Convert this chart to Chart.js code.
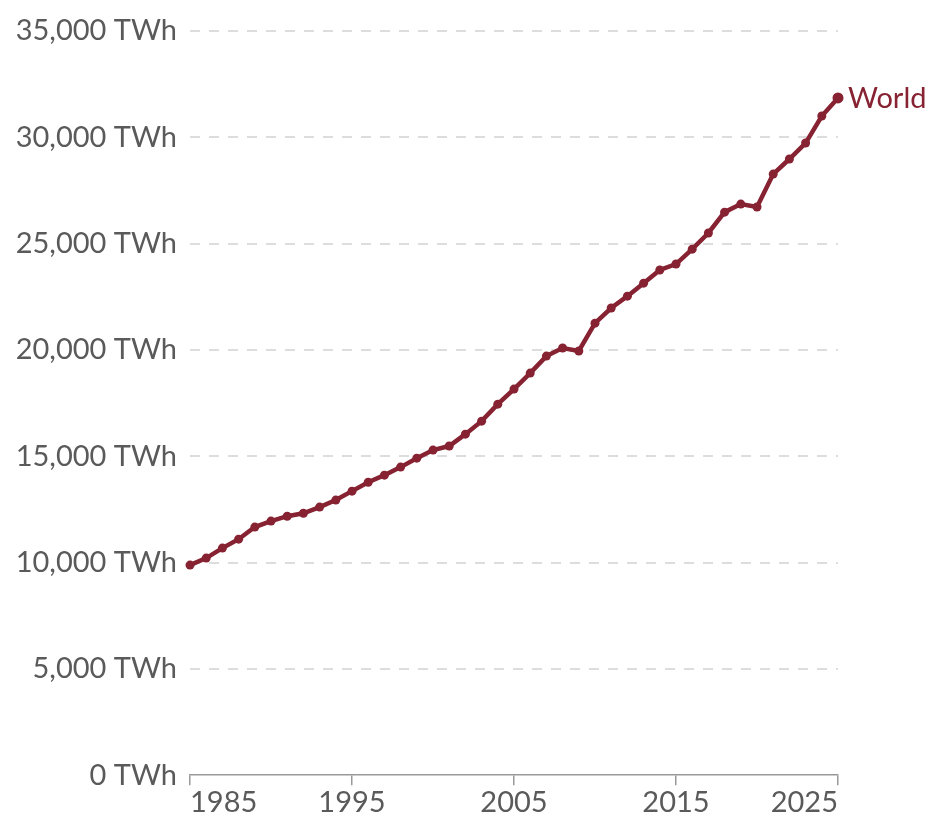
<!DOCTYPE html>
<html>
<head>
<meta charset="utf-8">
<script src="https://cdn.jsdelivr.net/npm/chart.js@4/dist/chart.umd.min.js"></script>
<style>
  html, body { margin: 0; padding: 0; background: #fff; }
  #wrap { position: relative; width: 931px; height: 820px; }
</style>
</head>
<body>
<div id="wrap"><canvas id="genChart"></canvas></div>
<script>
// World electricity generation, TWh
const years = [
  1985, 1986, 1987, 1988, 1989, 1990, 1991, 1992, 1993, 1994,
  1995, 1996, 1997, 1998, 1999, 2000, 2001, 2002, 2003, 2004,
  2005, 2006, 2007, 2008, 2009, 2010, 2011, 2012, 2013, 2014,
  2015, 2016, 2017, 2018, 2019, 2020, 2021, 2022, 2023, 2024, 2025
];
const world = [
  9880, 10210, 10680, 11100, 11670, 11950, 12180, 12320, 12610, 12940,
  13360, 13780, 14110, 14490, 14910, 15290, 15480, 16040, 16650, 17450,
  18160, 18910, 19710, 20090, 19950, 21260, 21970, 22530, 23140, 23760,
  24040, 24740, 25500, 26480, 26860, 26720, 28270, 28980, 29730, 31000, 31850
];
const seriesName = 'World';
const yTicks = [0, 5000, 10000, 15000, 20000, 25000, 30000, 35000];
const xTicks = [1985, 1995, 2005, 2015, 2025];

const lineColor = '#862231';
const textColor = '#5a5a5a';
const font = 'Lato, "Noto Sans", sans-serif';

// draws the series name next to its last point
const endLabel = {
  id: 'endLabel',
  afterDatasetsDraw(chart) {
    const meta = chart.getDatasetMeta(0);
    const pt = meta.data[meta.data.length - 1];
    const ctx = chart.ctx;
    ctx.save();
    ctx.fillStyle = lineColor;
    ctx.font = '29px ' + font;
    ctx.textAlign = 'left';
    ctx.textBaseline = 'middle';
    ctx.fillText(chart.data.datasets[0].label, pt.x + 10, pt.y + 1);
    ctx.restore();
  }
};

new Chart(document.getElementById('genChart'), {
  type: 'line',
  data: {
    datasets: [{
      label: seriesName,
      data: years.map((y, i) => ({ x: y, y: world[i] })),
      borderColor: lineColor,
      backgroundColor: lineColor,
      borderWidth: 4.5,
      pointRadius: (c) => c.dataIndex === world.length - 1 ? 5.5 : 4.5,
      pointBorderWidth: 0,
      tension: 0,
      clip: false
    }]
  },
  options: {
    responsive: true,
    maintainAspectRatio: false,
    animation: false,
    layout: { padding: { left: 0, right: 93, top: 31, bottom: 0 } },
    plugins: { legend: { display: false }, tooltip: { enabled: false } },
    scales: {
      x: {
        type: 'linear',
        min: xTicks[0],
        max: xTicks[xTicks.length - 1],
        afterBuildTicks: (s) => { s.ticks = xTicks.map(v => ({ value: v })); },
        ticks: {
          align: 'inner',
          color: textColor,
          font: { family: font, size: 29 },
          padding: 0,
          maxRotation: 0,
          callback: (v) => String(v)
        },
        grid: { drawOnChartArea: false, drawTicks: true, tickLength: 10, color: '#999', lineWidth: 1.5 },
        border: { display: true, color: '#999', width: 1.5 }
      },
      y: {
        min: 0,
        max: 35000,
        afterBuildTicks: (s) => { s.ticks = yTicks.map(v => ({ value: v })); },
        afterFit: (s) => { s.width = 190; },
        ticks: {
          color: textColor,
          font: { family: font, size: 29 },
          padding: 13,
          callback: (v) => v.toLocaleString('en-US') + ' TWh'
        },
        grid: {
          color: (c) => c.tick && c.tick.value === 0 ? 'rgba(0,0,0,0)' : '#dddddd',
          lineWidth: 2,
          drawTicks: false
        },
        border: { display: false, dash: [10, 9] }
      }
    }
  },
  plugins: [endLabel]
});
</script>
</body>
</html>
